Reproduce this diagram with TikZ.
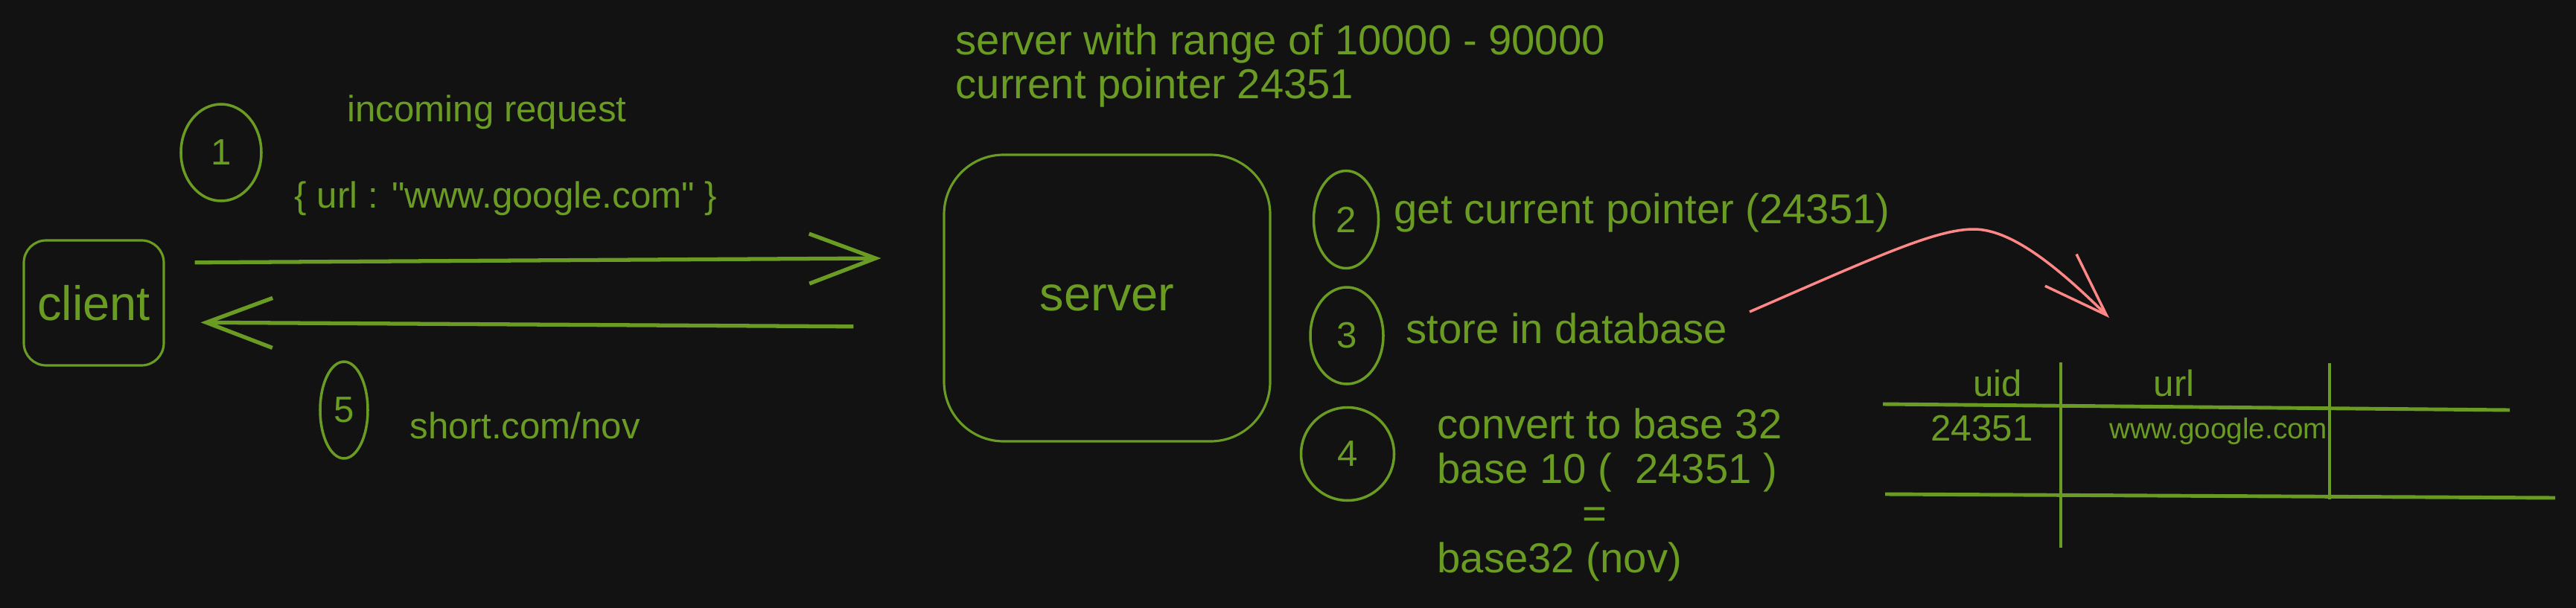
\documentclass[tikz,border=0pt]{standalone}
\usepackage{fontspec}
\setmainfont{Liberation Sans}[Ligatures=TeXOff]
\usetikzlibrary{arrows.meta,shapes.geometric}
\definecolor{bgdark}{HTML}{121212}
\definecolor{sketchgreen}{HTML}{6A9B22}
\definecolor{sketchpink}{HTML}{FF8787}
\tikzset{
  box/.style={draw=sketchgreen, line width=0.9pt, rounded corners=#1},
  ring/.style={ellipse, draw=sketchgreen, line width=1pt, inner sep=0pt, font=\fontsize{14}{16}\selectfont},
  flow/.style={draw=sketchgreen, line width=1.5pt, -{Straight Barb[length=8.9mm,width=6.7mm]}},
  hint/.style={draw=sketchpink, line width=1pt, -{Straight Barb[length=8.6mm,width=6mm]}},
  tableline/.style={draw=sketchgreen, line width=1.4pt},
  txt/.style={inner sep=0pt, font=\fontsize{16}{17}\selectfont},
  smalltxt/.style={inner sep=0pt, font=\fontsize{14}{16}\selectfont},
  bigtxt/.style={font=\fontsize{18.5}{21}\selectfont},
  tinytxt/.style={inner sep=0pt, font=\fontsize{11}{13}\selectfont}
}

\begin{document}
\begin{tikzpicture}[color=sketchgreen]
\fill[bgdark] (0,0) rectangle (34.6,-8.17);
\useasboundingbox (0,0) rectangle (34.6,-8.17);

% client and server
\node[box=3mm, minimum width=1.88cm, minimum height=1.68cm, bigtxt] (client) at (1.26,-4.07) {client};
\node[box=8mm, minimum width=4.38cm, minimum height=3.85cm, bigtxt] (server) at (14.87,-4.005) {server};

\draw[flow, shorten <=4mm, shorten >=8.3mm] ([yshift=5.4mm]client.east) -- ([yshift=5.4mm]server.west);
\draw[flow, shorten <=12mm, shorten >=4.8mm] ([yshift=-3.9mm]server.west) -- ([yshift=-2.6mm]client.east);

% steps
\node[ring, minimum width=1.08cm, minimum height=1.30cm] (s1) at (2.97,-2.05) {1};
\node[ring, minimum width=0.87cm, minimum height=1.31cm] (s2) at (18.08,-2.95) {2};
\node[ring, minimum width=0.98cm, minimum height=1.30cm] (s3) at (18.09,-4.51) {3};
\node[ring, minimum width=1.25cm, minimum height=1.25cm] (s4) at (18.10,-6.10) {4};
\node[ring, minimum width=0.64cm, minimum height=1.30cm] (s5) at (4.62,-5.51) {5};

\node[smalltxt, anchor=base west] (req) at (4.66,-1.63) {incoming request};
\node[smalltxt, anchor=base west] (body) at (3.95,-2.79) {\{ url : "www.google.com" \}};
\node[smalltxt, anchor=base west] (reply) at (5.50,-5.89) {short.com/nov};

\node[txt, anchor=west, align=left] (range) at (12.83,-0.885) {server with range of 10000 - 90000\\current pointer 24351};
\node[txt, anchor=base west] (fetch) at (18.72,-3.00) {get current pointer (24351)};
\node[txt, anchor=base west] (store) at (18.88,-4.61) {store in database};
\node[txt, anchor=west, align=left] (convert) at (19.30,-6.65) {convert to base 32\\base 10 (\ \ 24351 )\\\hspace*{1.95cm}=\\base32 (nov)};

% database table
\draw[tableline] (25.29,-5.43) -- (33.71,-5.51);
\draw[tableline] (25.32,-6.64) -- (34.32,-6.69);
\draw[tableline] (27.68,-4.87) -- (27.68,-7.36);
\draw[tableline] (31.29,-4.88) -- (31.29,-6.71);
\node[smalltxt, anchor=base] (uid) at (26.83,-5.32) {uid};
\node[smalltxt, anchor=base] (urlhead) at (29.20,-5.32) {url};
\node[smalltxt, anchor=base] (uidval) at (26.62,-5.92) {24351};
\node[tinytxt, anchor=base] (urlval) at (29.80,-5.89) {www.google.com};

\coordinate (dbfrom) at (23.50,-4.19);
\coordinate (dbtop) at (26.51,-3.08);
\coordinate (dbto) at (28.33,-4.27);
\draw[hint] (dbfrom) .. controls (25.2,-3.45) and (26.0,-3.08) .. (dbtop)
  .. controls (27.0,-3.08) and (27.6,-3.55) .. (dbto);
\end{tikzpicture}
\end{document}
